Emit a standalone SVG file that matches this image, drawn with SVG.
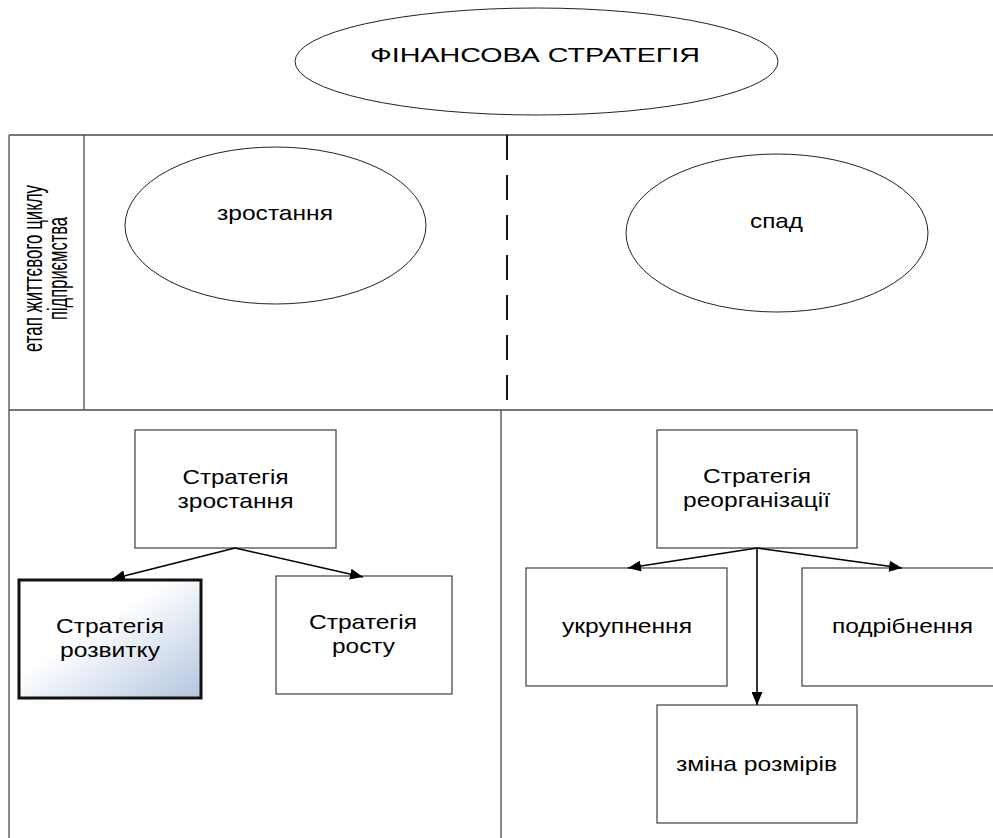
<svg xmlns="http://www.w3.org/2000/svg" width="993" height="838" viewBox="0 0 993 838">
<style>
text{font-family:"Liberation Sans",Arial,sans-serif;font-size:21px;fill:#000;text-anchor:middle}
.frame{stroke:#4a4a4a;stroke-width:1.3;fill:none}
.box{fill:#fff;stroke:#3c3c3c;stroke-width:1.2}
.ell{fill:#fff;stroke:#222;stroke-width:1}
.conn{stroke:#000;stroke-width:1.6;fill:none}
</style>
<defs>
<marker id="arr" markerUnits="userSpaceOnUse" markerWidth="14" markerHeight="11" refX="13" refY="5.5" orient="auto">
<path d="M0,0 L13,5.5 L0,11 Z" fill="#000"/>
</marker>
<linearGradient id="grad" x1="0" y1="0" x2="1" y2="1">
<stop offset="0" stop-color="#ffffff"/>
<stop offset="0.4" stop-color="#ffffff"/>
<stop offset="1" stop-color="#b3c5df"/>
</linearGradient>
</defs>
<rect width="993" height="838" fill="#fff"/>

<g id="frame">
<line class="frame" x1="9" y1="135" x2="993" y2="135" stroke="#777"/>
<line class="frame" x1="9" y1="135" x2="9" y2="838"/>
<line class="frame" x1="84" y1="135" x2="84" y2="410"/>
<line class="frame" x1="9" y1="410" x2="993" y2="410"/>
<line class="frame" x1="501" y1="410" x2="501" y2="838"/>
<line x1="507" y1="135" x2="507" y2="400" stroke="#111" stroke-width="2" stroke-dasharray="25 15"/>
<text transform="translate(42,268.5) rotate(-90) scale(1,1.3)" font-size="17" textLength="167" lengthAdjust="spacingAndGlyphs">етап життєвого циклу</text>
<text transform="translate(67,268.5) rotate(-90) scale(1,1.3)" font-size="17" textLength="103" lengthAdjust="spacingAndGlyphs">підприємства</text>
</g>

<g id="title">
<ellipse class="ell" cx="536.5" cy="61.5" rx="241.5" ry="53.5"/>
<text x="535" y="62" textLength="330" lengthAdjust="spacingAndGlyphs">ФІНАНСОВА СТРАТЕГІЯ</text>
</g>

<g id="growth">
<ellipse class="ell" cx="275.5" cy="225.5" rx="150.5" ry="78.5"/>
<text x="275" y="220" textLength="116" lengthAdjust="spacingAndGlyphs">зростання</text>
</g>

<g id="decline">
<ellipse class="ell" cx="777" cy="233" rx="151" ry="79"/>
<text x="776.5" y="228" textLength="53" lengthAdjust="spacingAndGlyphs">спад</text>
</g>

<g id="s-growth">
<rect class="box" x="135" y="430" width="201" height="118"/>
<text x="235.5" y="484" textLength="106" lengthAdjust="spacingAndGlyphs">Стратегія</text>
<text x="235.5" y="508" textLength="116" lengthAdjust="spacingAndGlyphs">зростання</text>
</g>

<g id="s-development">
<rect x="19" y="580" width="182" height="118" fill="url(#grad)" stroke="#111" stroke-width="3"/>
<text x="110" y="633" textLength="108" lengthAdjust="spacingAndGlyphs">Стратегія</text>
<text x="110" y="657" textLength="100" lengthAdjust="spacingAndGlyphs">розвитку</text>
</g>

<g id="s-rost">
<rect class="box" x="276" y="576" width="176" height="118"/>
<text x="363" y="629" textLength="108" lengthAdjust="spacingAndGlyphs">Стратегія</text>
<text x="363.5" y="653" textLength="63" lengthAdjust="spacingAndGlyphs">росту</text>
</g>

<g id="s-reorg">
<rect class="box" x="657" y="430" width="200" height="118"/>
<text x="757" y="483" textLength="108" lengthAdjust="spacingAndGlyphs">Стратегія</text>
<text x="756.5" y="507" textLength="147" lengthAdjust="spacingAndGlyphs">реорганізації</text>
</g>

<g id="consolidation">
<rect class="box" x="526" y="568" width="201" height="118"/>
<text x="627" y="633" textLength="130" lengthAdjust="spacingAndGlyphs">укрупнення</text>
</g>

<g id="fragmentation">
<rect class="box" x="802" y="568" width="201" height="118"/>
<text x="902.5" y="633" textLength="141" lengthAdjust="spacingAndGlyphs">подрібнення</text>
</g>

<g id="resize">
<rect class="box" x="657" y="705" width="200" height="118"/>
<text x="756.5" y="771" textLength="161" lengthAdjust="spacingAndGlyphs">зміна розмірів</text>
</g>

<g id="connectors">
<line class="conn" x1="235" y1="548" x2="112" y2="579" marker-end="url(#arr)"/>
<line class="conn" x1="235" y1="548" x2="363" y2="577" marker-end="url(#arr)"/>
<line class="conn" x1="757" y1="548" x2="628" y2="568" marker-end="url(#arr)"/>
<line class="conn" x1="757" y1="548" x2="902" y2="568" marker-end="url(#arr)"/>
<line class="conn" x1="757" y1="548" x2="757" y2="705" stroke-width="2" marker-end="url(#arr)"/>
</g>
</svg>
